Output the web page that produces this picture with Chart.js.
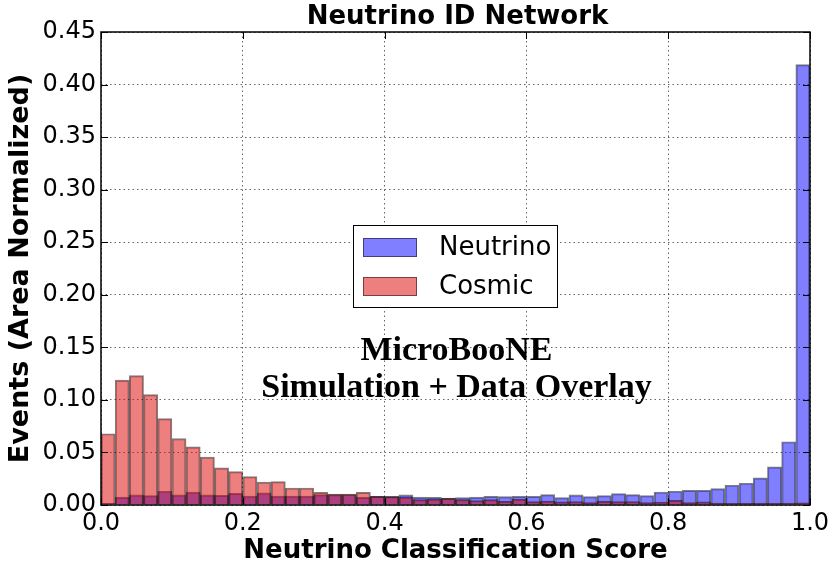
<!DOCTYPE html>
<html>
<head>
<meta charset="utf-8">
<script src="https://cdn.jsdelivr.net/npm/chart.js@4/dist/chart.umd.min.js"></script>
<style>
  html, body { margin: 0; padding: 0; background: #fff; }
  #wrap { width: 835px; height: 569px; position: relative; }
</style>
</head>
<body>
<div id="wrap"><canvas id="nuChart"></canvas></div>
<script>
// histogram: 50 bins of width 0.02 between 0 and 1
const binLow = 0;
const binWidth = 0.02;

const neutrino = [
  0.0016, 0.0076, 0.0096, 0.0089, 0.0131, 0.0096, 0.0124, 0.0096, 0.0092, 0.0111,
  0.0086, 0.0115, 0.0086, 0.0086, 0.0086, 0.0099, 0.0099, 0.0100, 0.0076, 0.0083,
  0.0083, 0.0096, 0.0076, 0.0073, 0.0065, 0.0070, 0.0076, 0.0083, 0.0080, 0.0083,
  0.0083, 0.0099, 0.0070, 0.0096, 0.0080, 0.0089, 0.0108, 0.0099, 0.0089, 0.0124,
  0.0131, 0.0140, 0.0140, 0.0156, 0.0188, 0.0207, 0.0258, 0.0363, 0.0602, 0.4190
];

const cosmic = [
  0.0678, 0.1188, 0.1232, 0.1051, 0.0822, 0.0631, 0.0554, 0.0455, 0.0354, 0.0318,
  0.0271, 0.0217, 0.0223, 0.0162, 0.0162, 0.0121, 0.0105, 0.0105, 0.0121, 0.0083,
  0.0080, 0.0076, 0.0051, 0.0057, 0.0064, 0.0051, 0.0041, 0.0051, 0.0035, 0.0057,
  0.0032, 0.0038, 0.0029, 0.0032, 0.0022, 0.0035, 0.0032, 0.0032, 0.0022, 0.0025,
  0.0045, 0.0022, 0.0029, 0.0019, 0.0016, 0.0016, 0.0016, 0.0016, 0.0019, 0.0020
];

const seriesNames = ["Neutrino", "Cosmic"];
const xTicks = [0.0, 0.2, 0.4, 0.6, 0.8, 1.0];
const yTicks = [0, 0.05, 0.1, 0.15, 0.2, 0.25, 0.3, 0.35, 0.4, 0.45];

const blueFill = "rgba(0, 0, 255, 0.5)";
const redFill = "rgba(222, 0, 0, 0.5)";
const edge = "rgba(0, 0, 0, 0.5)";

const toPoints = (vals) =>
  vals.map((v, i) => ({ x: binLow + binWidth * (i + 0.5), y: v }));

// frame, inward ticks, title, legend and the MicroBooNE label
const decorations = {
  id: "decorations",
  afterDraw(chart) {
    const { ctx, chartArea: a, scales } = chart;
    ctx.save();

    // inward tick marks on all four sides
    ctx.strokeStyle = "#000";
    ctx.lineWidth = 1;
    xTicks.forEach((t) => {
      const px = Math.round(scales.x.getPixelForValue(t)) + 0.5;
      ctx.beginPath();
      ctx.moveTo(px, a.bottom); ctx.lineTo(px, a.bottom - 7);
      ctx.moveTo(px, a.top); ctx.lineTo(px, a.top + 7);
      ctx.stroke();
    });
    yTicks.forEach((t) => {
      const py = Math.round(scales.y.getPixelForValue(t)) + 0.5;
      ctx.beginPath();
      ctx.moveTo(a.left, py); ctx.lineTo(a.left + 7, py);
      ctx.moveTo(a.right, py); ctx.lineTo(a.right - 7, py);
      ctx.stroke();
    });

    // frame
    ctx.lineWidth = 1.5;
    ctx.strokeRect(a.left, a.top, a.right - a.left, a.bottom - a.top);

    // title
    const cx = (a.left + a.right) / 2;
    ctx.fillStyle = "#000";
    ctx.textAlign = "center";
    ctx.textBaseline = "middle";
    ctx.font = "bold 26px 'DejaVu Sans'";
    ctx.fillText("Neutrino ID Network", cx + 2, a.top - 15);

    // legend box
    const lx = a.left + 252, ly = a.top + 193;
    ctx.fillStyle = "#fff";
    ctx.fillRect(lx, ly, 204, 82);
    ctx.strokeStyle = "#000";
    ctx.lineWidth = 1;
    ctx.strokeRect(lx + 0.5, ly + 0.5, 204, 82);
    const fills = [blueFill, redFill];
    seriesNames.forEach((name, i) => {
      const sy = ly + 13 + i * 39;
      ctx.fillStyle = fills[i];
      ctx.fillRect(lx + 10, sy, 54, 19);
      ctx.strokeStyle = edge;
      ctx.strokeRect(lx + 10.5, sy + 0.5, 53, 18);
      ctx.fillStyle = "#000";
      ctx.textAlign = "left";
      ctx.font = "26px 'DejaVu Sans'";
      ctx.fillText(name, lx + 86, sy + 10);
    });

    // MicroBooNE label
    ctx.textAlign = "center";
    ctx.textBaseline = "alphabetic";
    ctx.font = "bold 34px 'Liberation Serif'";
    ctx.fillText("MicroBooNE", cx + 1, a.top + 328);
    ctx.fillText("Simulation + Data Overlay", cx + 1, a.top + 365);

    ctx.restore();
  },
};

const ctx = document.getElementById("nuChart");

new Chart(ctx, {
  type: "bar",
  data: {
    datasets: [
      {
        label: seriesNames[0],
        data: toPoints(neutrino),
        backgroundColor: blueFill,
        borderColor: edge,
        borderWidth: 1.3,
        order: 1,
      },
      {
        label: seriesNames[1],
        data: toPoints(cosmic),
        backgroundColor: redFill,
        borderColor: edge,
        borderWidth: 1.3,
        order: 0,
      },
    ],
  },
  options: {
    responsive: true,
    maintainAspectRatio: false,
    animation: false,
    events: [],
    grouped: false,
    barPercentage: 1,
    categoryPercentage: 1,
    layout: { padding: { top: 32, right: 25, left: 0, bottom: 0 } },
    scales: {
      x: {
        type: "linear",
        min: 0,
        max: 1,
        offset: false,
        afterFit: (scale) => { scale.height = 64; },
        afterBuildTicks: (scale) => { scale.ticks = xTicks.map((v) => ({ value: v })); },
        grid: {
          offset: false,
          drawTicks: false,
          color: "rgba(0,0,0,0.6)",
          lineWidth: 1,
        },
        border: { display: false, dash: [1.5, 3] },
        ticks: {
          padding: 4,
          color: "#000",
          font: { family: "'DejaVu Sans'", size: 24 },
          callback: (v) => Number(v).toFixed(1),
          maxRotation: 0,
        },
        title: {
          display: true,
          text: "Neutrino Classification Score",
          color: "#000",
          font: { family: "'DejaVu Sans'", size: 26, weight: "bold" },
          padding: { top: 0, bottom: 2 },
        },
      },
      y: {
        min: 0,
        max: 0.45,
        afterFit: (scale) => { scale.width = 101; },
        afterBuildTicks: (scale) => { scale.ticks = yTicks.map((v) => ({ value: v })); },
        grid: {
          drawTicks: false,
          color: "rgba(0,0,0,0.6)",
          lineWidth: 1,
        },
        border: { display: false, dash: [1.5, 3] },
        ticks: {
          padding: 5,
          color: "#000",
          font: { family: "'DejaVu Sans'", size: 24 },
          callback: (v) => Number(v).toFixed(2),
        },
        title: {
          display: true,
          text: "Events (Area Normalized)",
          color: "#000",
          font: { family: "'DejaVu Sans'", size: 27, weight: "bold" },
          padding: { top: 5, bottom: 0 },
        },
      },
    },
    plugins: {
      legend: { display: false },
      tooltip: { enabled: false },
    },
  },
  plugins: [decorations],
});
</script>
</body>
</html>
